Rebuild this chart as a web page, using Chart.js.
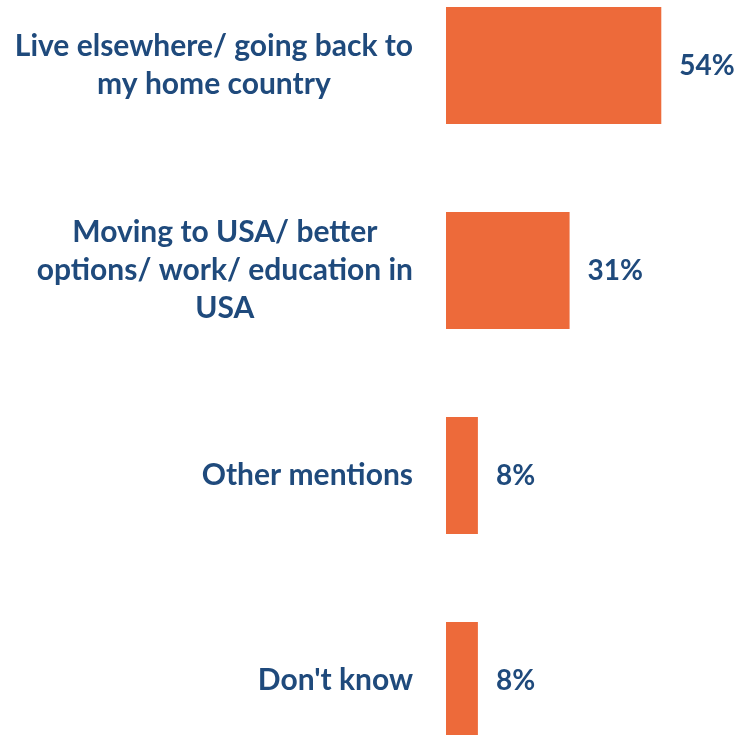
<!DOCTYPE html>
<html>
<head>
<meta charset="utf-8">
<script src="https://cdn.jsdelivr.net/npm/chart.js@4.4.0/dist/chart.umd.min.js"></script>
<style>
  html, body { margin: 0; padding: 0; background: #ffffff; overflow: hidden; }
  #wrap { position: absolute; left: 0; top: -37px; width: 749px; height: 820px; }
</style>
</head>
<body>
<div id="wrap"><canvas id="grafico"></canvas></div>
<script>
// categorias (cada una dividida en lineas) y valores en %
const categorias = [
  ['Live elsewhere/ going back to', 'my home country'],
  ['Moving to USA/ better', 'options/ work/ education in', 'USA'],
  ['Other mentions'],
  ["Don't know"]
]
const valores = [54, 31, 8, 8]
const etiquetasValor = ['54%', '31%', '8%', '8%']

const colorTexto = '#1F4A7C'
const colorBarra = '#ED6A3A'
const fuenteCategoria = 'bold 30px Lato'
const fuenteValor = 'bold 28px Lato'
const altoLinea = 38

// dibuja las etiquetas de categoria (centradas entre si, bloque alineado a la derecha)
// y el valor a la derecha de cada barra
const etiquetasPlugin = {
  id: 'etiquetas',
  afterDatasetsDraw(chart) {
    const ctx = chart.ctx
    const yScale = chart.scales.y
    const meta = chart.getDatasetMeta(0)
    ctx.save()
    ctx.fillStyle = colorTexto
    ctx.textBaseline = 'middle'
    categorias.forEach((lineas, i) => {
      const yc = yScale.getPixelForTick(i)
      ctx.font = fuenteCategoria
      const anchoMax = Math.max(...lineas.map(l => ctx.measureText(l).width))
      const derecha = chart.chartArea.left - 33
      const centro = derecha - anchoMax / 2
      const inicio = yc - (lineas.length - 1) * altoLinea / 2
      ctx.textAlign = 'center'
      lineas.forEach((l, j) => ctx.fillText(l, centro, inicio + j * altoLinea))
      // valor a la derecha de la barra
      const barra = meta.data[i]
      ctx.font = fuenteValor
      ctx.textAlign = 'left'
      ctx.fillText(etiquetasValor[i], barra.x + 18, barra.y)
    })
    ctx.restore()
  }
}

new Chart(document.getElementById('grafico'), {
  type: 'bar',
  data: {
    labels: categorias,
    datasets: [{
      data: valores,
      backgroundColor: colorBarra,
      borderWidth: 0,
      categoryPercentage: 1,
      barPercentage: 0.571
    }]
  },
  options: {
    indexAxis: 'y',
    responsive: true,
    maintainAspectRatio: false,
    animation: false,
    layout: { padding: 0 },
    plugins: { legend: { display: false }, tooltip: { enabled: false } },
    scales: {
      x: { display: false, min: 0, max: 76 },
      y: {
        grid: { display: false, drawTicks: false },
        border: { display: false },
        ticks: { display: false },
        afterFit(scale) { scale.width = 446 }
      }
    }
  },
  plugins: [etiquetasPlugin]
})
</script>
</body>
</html>
